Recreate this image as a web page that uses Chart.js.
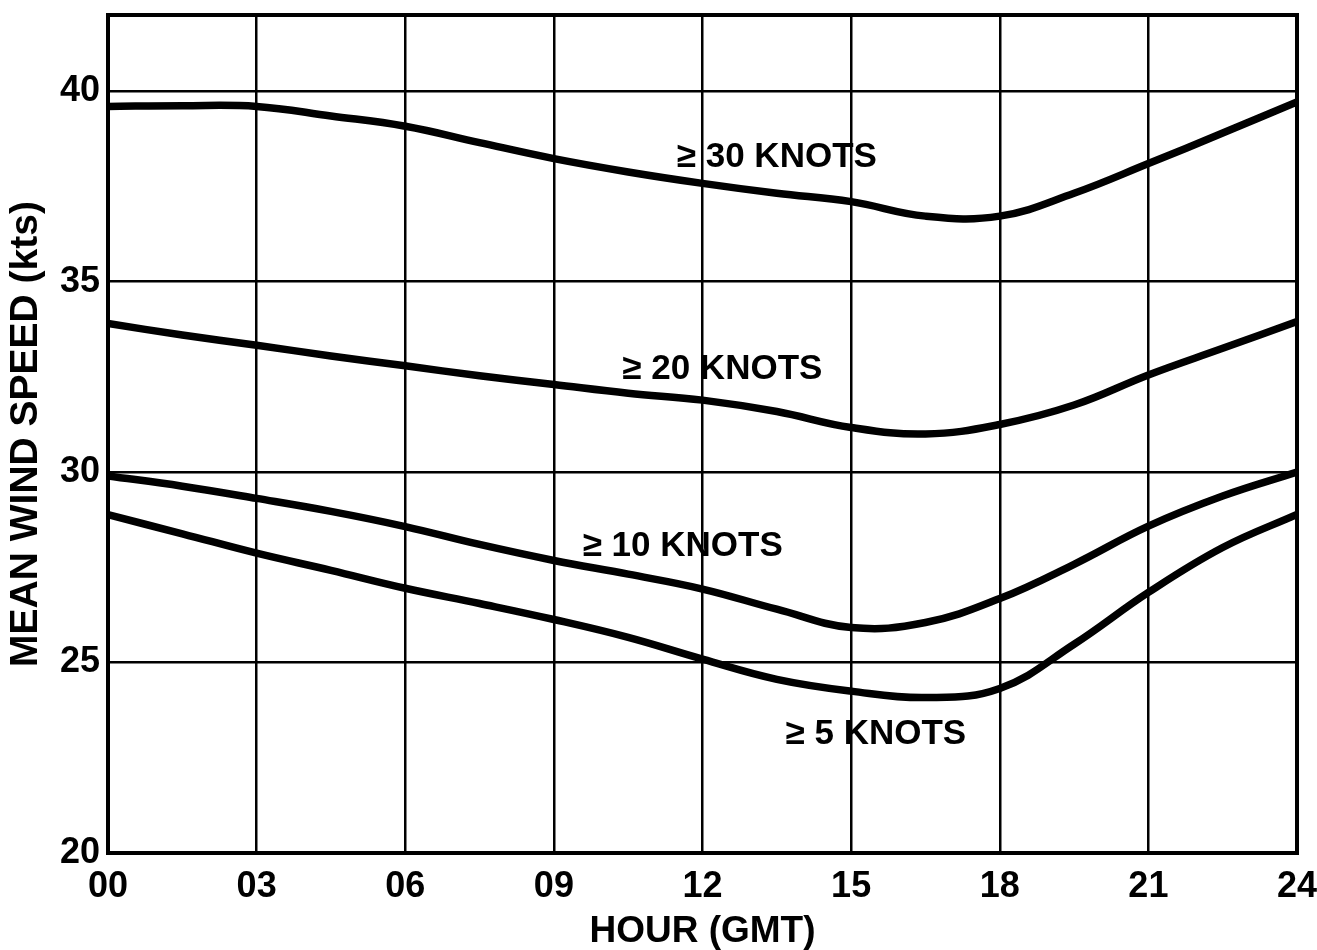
<!DOCTYPE html>
<html>
<head>
<meta charset="utf-8">
<style>
  html, body { margin: 0; padding: 0; background: #ffffff; }
  #wrap { width: 1317px; height: 950px; }
</style>
<script src="https://cdn.jsdelivr.net/npm/chart.js@4/dist/chart.umd.min.js"></script>
</head>
<body>
<div id="wrap"><canvas id="c" width="1317" height="950"></canvas></div>
<script>
// ---- data ----
const hours = [0, 1.5, 3, 4.5, 6, 7.5, 9, 10.5, 12, 13.5, 15, 16.5, 18, 19.5, 21, 22.5, 24];
const ge30 = [39.60, 39.62, 39.60, 39.35, 39.08, 38.65, 38.23, 37.88, 37.58, 37.32, 37.10, 36.72, 36.72, 37.32, 38.10, 38.90, 39.72];
const ge20 = [33.90, 33.60, 33.33, 33.05, 32.79, 32.53, 32.30, 32.07, 31.89, 31.59, 31.17, 31.00, 31.25, 31.76, 32.55, 33.25, 33.95];
const ge10 = [29.90, 29.63, 29.31, 28.97, 28.57, 28.10, 27.68, 27.32, 26.93, 26.40, 25.92, 26.05, 26.68, 27.58, 28.58, 29.37, 30.00];
const ge5  = [28.88, 28.38, 27.87, 27.42, 26.95, 26.55, 26.13, 25.66, 25.09, 24.56, 24.25, 24.08, 24.32, 25.48, 26.84, 28.02, 28.89];
const seriesNames = ['≥ 30 KNOTS', '≥ 20 KNOTS', '≥ 10 KNOTS', '≥ 5 KNOTS'];
const xTickValues = [0, 3, 6, 9, 12, 15, 18, 21, 24];
const yTickValues = [20, 25, 30, 35, 40];
const xTitle = 'HOUR (GMT)';
const yTitle = 'MEAN WIND SPEED (kts)';

const FONT = '"Liberation Sans", Arial, sans-serif';

function pts(vals) { return hours.map((h, i) => ({ x: h, y: vals[i] })); }

const curveStyle = {
  borderColor: '#000000',
  borderWidth: 7.5,
  pointRadius: 0,
  fill: false,
  tension: 0.4,
  borderCapStyle: 'round',
  borderJoinStyle: 'round'
};

// frame around the plotting area
const framePlugin = {
  id: 'frame',
  beforeDatasetsDraw(chart) {
    const a = chart.chartArea, ctx = chart.ctx;
    ctx.save();
    ctx.strokeStyle = '#000';
    ctx.lineWidth = 4;
    ctx.strokeRect(a.left, a.top, a.right - a.left, a.bottom - a.top);
    ctx.restore();
  }
};

// curve labels placed in data coordinates
const curveLabelPlugin = {
  id: 'curveLabels',
  afterDatasetsDraw(chart, args, opts) {
    const ctx = chart.ctx, xs = chart.scales.x, ys = chart.scales.y;
    ctx.save();
    ctx.fillStyle = '#000';
    ctx.font = opts.font;
    ctx.textAlign = 'center';
    ctx.textBaseline = 'middle';
    opts.items.forEach(it => {
      ctx.fillText(it.text, xs.getPixelForValue(it.hour), ys.getPixelForValue(it.speed));
    });
    ctx.restore();
  }
};

new Chart(document.getElementById('c'), {
  type: 'line',
  data: {
    datasets: [
      Object.assign({ label: seriesNames[0], data: pts(ge30) }, curveStyle),
      Object.assign({ label: seriesNames[1], data: pts(ge20) }, curveStyle),
      Object.assign({ label: seriesNames[2], data: pts(ge10) }, curveStyle),
      Object.assign({ label: seriesNames[3], data: pts(ge5) }, curveStyle)
    ]
  },
  options: {
    responsive: false,
    devicePixelRatio: 1,
    animation: false,
    layout: { padding: { top: 15, right: 20, left: 0, bottom: 0 } },
    plugins: {
      legend: { display: false },
      tooltip: { enabled: false },
      curveLabels: {
        font: 'bold 35px ' + FONT,
        items: [
          { text: seriesNames[0], hour: 13.5, speed: 38.27 },
          { text: seriesNames[1], hour: 12.4, speed: 32.71 },
          { text: seriesNames[2], hour: 11.6, speed: 28.05 },
          { text: seriesNames[3], hour: 15.5, speed: 23.12 }
        ]
      }
    },
    scales: {
      x: {
        type: 'linear',
        min: 0, max: 24,
        afterBuildTicks(scale) { scale.ticks = xTickValues.map(v => ({ value: v })); },
        afterFit(scale) { scale.height = 97; scale.paddingLeft = 0; scale.paddingRight = 0; },
        grid: { color: '#000', lineWidth: 2.5, drawTicks: false },
        border: { display: false },
        ticks: {
          color: '#000',
          padding: 12,
          maxRotation: 0,
          font: { family: FONT, size: 36, weight: 'bold' },
          callback: v => String(v).padStart(2, '0')
        },
        title: {
          display: true, text: xTitle, color: '#000',
          font: { family: FONT, size: 37, weight: 'bold' },
          padding: { top: 0, bottom: -4 }
        }
      },
      y: {
        type: 'linear',
        min: 20, max: 42,
        afterBuildTicks(scale) { scale.ticks = yTickValues.map(v => ({ value: v })); },
        afterFit(scale) { scale.width = 108; scale.paddingTop = 0; scale.paddingBottom = 0; },
        grid: { color: '#000', lineWidth: 2.5, drawTicks: false },
        border: { display: false },
        ticks: {
          color: '#000',
          padding: 8,
          font: { family: FONT, size: 36, weight: 'bold' }
        },
        title: {
          display: true, text: yTitle, color: '#000',
          font: { family: FONT, size: 39, weight: 'bold' },
          padding: { top: 3, bottom: 0 }
        }
      }
    }
  },
  plugins: [framePlugin, curveLabelPlugin]
});
</script>
</body>
</html>
